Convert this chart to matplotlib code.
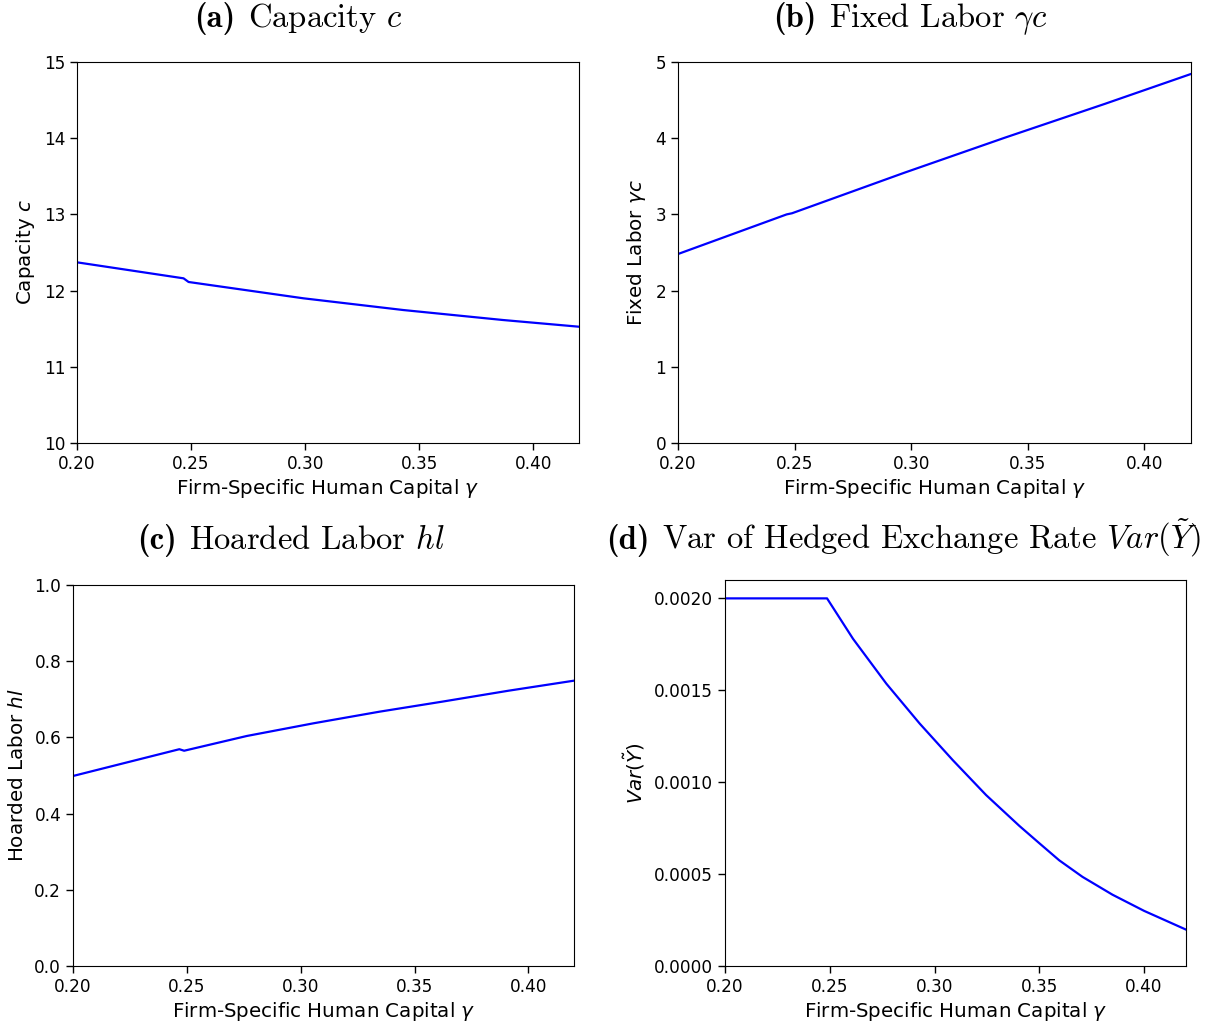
import matplotlib
matplotlib.use("Agg")
import matplotlib.pyplot as plt

# ---- data ----
gamma_a = [0.20, 0.2467, 0.2489, 0.2992, 0.343, 0.3867, 0.42]
capacity = [12.371, 12.161, 12.113, 11.899, 11.745, 11.614, 11.526]

gamma_b = [0.20, 0.2466, 0.2489, 0.2969, 0.340, 0.383, 0.42]
fixed_labor = [2.48, 3.00, 3.015, 3.545, 4.005, 4.45, 4.843]

gamma_c = [0.20, 0.2467, 0.2488, 0.2763, 0.3056, 0.3346, 0.362, 0.3913, 0.42]
hoarded = [0.4987, 0.569, 0.565, 0.6037, 0.637, 0.6675, 0.6937, 0.7226, 0.7489]

gamma_d = [0.20, 0.2487, 0.2611, 0.2770, 0.2929, 0.3087, 0.3246, 0.3405,
           0.3500, 0.3595, 0.3706, 0.3849, 0.40, 0.42]
var_y = [0.0020, 0.0020, 0.00178, 0.001536, 0.001319, 0.001120, 0.000930,
         0.000762, 0.000668, 0.000575, 0.000485, 0.000388, 0.000300, 0.000198]

xticks = [0.20, 0.25, 0.30, 0.35, 0.40]
xtick_labels = ["0.20", "0.25", "0.30", "0.35", "0.40"]
xlabel = r"Firm-Specific Human Capital $\gamma$"

W, H = 1206, 1027
fig = plt.figure(figsize=(W / 100, H / 100), dpi=100)

LFS = 14.3   # axis label size
TFS = 12.2   # tick label size
TITLE_FS = 23.5


def add_ax(l, t, r, b):
    return fig.add_axes([l / W, 1 - b / H, (r - l) / W, (b - t) / H])


panels = [
    ((77, 62, 579, 443), gamma_a, capacity, (10, 15), [10, 11, 12, 13, 14, 15],
     None, r"Capacity $c$", "(a)", r"Capacity $c$", (298, 27)),
    ((678, 62, 1191, 443), gamma_b, fixed_labor, (0, 5), [0, 1, 2, 3, 4, 5],
     None, r"Fixed Labor $\gamma c$", "(b)", r"Fixed Labor $\gamma c$", (910, 27)),
    ((73, 585, 574, 966), gamma_c, hoarded, (0, 1.0), [0.0, 0.2, 0.4, 0.6, 0.8, 1.0],
     "%.1f", r"Hoarded Labor $hl$", "(c)", r"Hoarded Labor $hl$", (291, 549)),
    ((725, 580, 1186, 966), gamma_d, var_y, (0, 0.0021),
     [0.0, 0.0005, 0.0010, 0.0015, 0.0020],
     "%.4f", r"$Var(\tilde{Y})$", "(d)",
     r"Var of Hedged Exchange Rate $Var(\tilde{Y})$", (904, 549)),
]

title_parts = []
for box, x, y, ylim, yticks, fmt, ylab, tag, title, tpos in panels:
    ax = add_ax(*box)
    ax.plot(x, y, color="blue", lw=1.6)
    ax.set_xlim(0.20, 0.42)
    ax.set_ylim(*ylim)
    ax.set_xticks(xticks)
    ax.set_xticklabels(xtick_labels)
    ax.set_yticks(yticks)
    if fmt:
        ax.set_yticklabels([fmt % v for v in yticks])
    else:
        ax.set_yticklabels([str(v) for v in yticks])
    ax.tick_params(labelsize=TFS, length=5, width=1)
    ax.set_xlabel(xlabel, fontsize=LFS, math_fontfamily="dejavusans", labelpad=3)
    ax.set_ylabel(ylab, fontsize=LFS, math_fontfamily="dejavusans", labelpad=5)
    t1 = fig.text(0, 0, tag, family="cmb10", fontsize=TITLE_FS, va="baseline")
    t2 = fig.text(0, 0, title, family="cmr10", math_fontfamily="cm",
                  fontsize=TITLE_FS, va="baseline")
    title_parts.append((t1, t2, tpos))

fig.canvas.draw()
renderer = fig.canvas.get_renderer()
gap = TITLE_FS * 1.389 * 0.38
for t1, t2, (cx, by) in title_parts:
    w1 = t1.get_window_extent(renderer).width
    w2 = t2.get_window_extent(renderer).width
    total = w1 + gap + w2
    left = cx - total / 2
    t1.set_position((left / W, 1 - by / H))
    t2.set_position(((left + w1 + gap) / W, 1 - by / H))

fig.savefig("out.png", dpi=100)
